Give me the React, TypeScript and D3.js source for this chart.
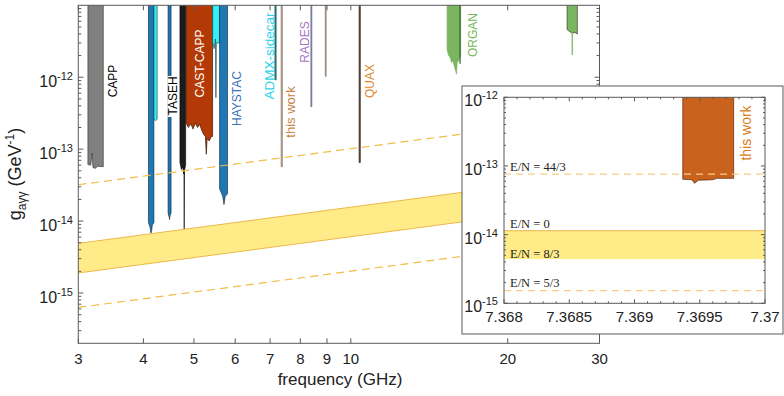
import React from "react";
import * as d3 from "d3";

// ---- tick values ----
const freqTicks = [3, 4, 5, 6, 7, 8, 9, 10, 20, 30];
const gDecades = [-15, -14, -13, -12];
const insetFreqTicks = [7.368, 7.3685, 7.369, 7.3695, 7.37];
const insetFreqTickLabels = ["7.368", "7.3685", "7.369", "7.3695", "7.37"];
const insetDecades = [-15, -14, -13, -12];

// ---- QCD axion lines, [frequency GHz, g (GeV^-1)] ----
const lineEN0 = [[3, 4.9e-15], [30, 4.5e-14]];
const lineEN83 = [[3, 1.9e-15], [30, 1.75e-14]];
const lineEN443 = [[3, 3.2e-14], [30, 2.9e-13]];
const lineEN53 = [[3, 6.3e-16], [30, 5.8e-15]];

// ---- exclusion limits: lower edge of each excluded region ----
const cappLimit = [[3.13, 6.1e-14], [3.17, 6.0e-14], [3.19, 8.8e-14], [3.2, 5.6e-14], [3.23, 5.4e-14], [3.27, 5.8e-14], [3.35, 5.7e-14]];
const haystacA = [[4.09, 9.5e-15], [4.12, 8.2e-15], [4.135, 6.8e-15], [4.15, 7.5e-15], [4.16, 8.8e-15], [4.19, 9.5e-15]];
const sidecarA = [[4.19, 2.6e-13], [4.22, 2.5e-13], [4.25, 2.6e-13]];
const haystacB = [[4.46, 1.3e-14], [4.48, 1.15e-14], [4.49, 1.05e-14], [4.5, 1.2e-14], [4.52, 1.3e-14]];
const tasehLimit = [[4.7, 6.5e-14], [4.73, 5.2e-14], [4.76, 5.6e-14], [4.78, 4.5e-14], [4.785, 4.8e-14], [4.79, 7.5e-15], [4.795, 5e-14], [4.82, 6e-14]];
const castCappLimit = [[4.83, 2.3e-13], [4.88, 2.0e-13], [4.93, 2.25e-13], [4.98, 1.9e-13], [5.03, 2.3e-13], [5.08, 2.0e-13], [5.13, 2.2e-13], [5.18, 1.8e-13], [5.22, 1.6e-13], [5.26, 1.5e-13], [5.28, 8.5e-14], [5.3, 1.4e-13], [5.35, 1.3e-13], [5.4, 1.5e-13], [5.43, 1.5e-13]];
const sidecarB = [[5.43, 3e-12], [5.47, 2.5e-12], [5.5, 3.4e-12], [5.51, 5.2e-13], [5.52, 3e-12], [5.6, 3e-12]];
const haystacC = [[5.6, 2.8e-14], [5.64, 2.5e-14], [5.68, 2.2e-14], [5.71, 1.7e-14], [5.74, 2.2e-14], [5.8, 2.4e-14]];
const sidecarC = [[7.15, 9.2e-13], [7.19, 9.2e-13]];
const thisWorkMain = [[7.35, 5.7e-14], [7.39, 5.7e-14]];
const radesLimit = [[8.38, 3.9e-13], [8.42, 3.9e-13]];
const line9GHz = [[8.93, 1.03e-12], [8.97, 1.03e-12]];
const quaxLimit = [[10.37, 6.5e-14], [10.43, 6.5e-14]];
const organA = [[15.3, 2.4e-12], [15.4, 2.0e-12], [15.5, 1.9e-12], [15.6, 1.6e-12], [15.7, 1.7e-12], [15.8, 1.4e-12], [15.9, 1.2e-12], [15.95, 1.1e-12], [16.0, 1.6e-12], [16.1, 1.7e-12], [16.25, 2.0e-12]];
const organAline = [[16.18, 1.55e-12], [16.22, 1.55e-12]];
const organB = [[26.0, 4.6e-12], [26.3, 4.3e-12], [26.6, 4.1e-12], [26.9, 4.2e-12], [27.2, 4.0e-12]];
const organBline = [[26.56, 2.06e-12], [26.64, 2.06e-12]];

// ---- inset values ----
const insetThisWork = [[7.36937, 6.4e-14], [7.36944, 6.3e-14], [7.36946, 5.6e-14], [7.36949, 6.2e-14], [7.3696, 6.3e-14], [7.36963, 6.6e-14], [7.36976, 6.6e-14]];
const insetEN443 = 7.6e-14;
const insetEN0 = 1.14e-14;
const insetEN83 = 4.4e-15;
const insetEN53 = 1.53e-15;

const regions = [
  { data: cappLimit, fill: "#808080", stroke: "#2a2a2a" },
  { data: haystacA, fill: "#1E78B4", stroke: "#0c2233" },
  { data: sidecarA, fill: "#33EEF5", stroke: "#0c3a40" },
  { data: haystacB, fill: "#1E78B4", stroke: "#0c2233" },
  { data: tasehLimit, fill: "#1c1c1c", stroke: "#000" },
  { data: castCappLimit, fill: "#B33A06", stroke: "#1a0800" },
  { data: sidecarB, fill: "#33EEF5", stroke: "#0c3a40" },
  { data: haystacC, fill: "#1E78B4", stroke: "#0c2233" },
  { data: sidecarC, fill: "#1f8f95", stroke: "#0f4a4d" },
  { data: thisWorkMain, fill: "#BFA592", stroke: "#8a6e5c" },
  { data: radesLimit, fill: "#8585A8", stroke: "#6a6a8a" },
  { data: line9GHz, fill: "#A39384", stroke: "#8a7a6c" },
  { data: quaxLimit, fill: "#6b5444", stroke: "#2a1a10" },
  { data: organA, fill: "#7AB560", stroke: "#7AB560" },
  { data: organAline, fill: "#3f6b30", stroke: "#3f6b30" },
  { data: organB, fill: "#7AB560", stroke: "#1a2a10" },
  { data: organBline, fill: "#7AB560", stroke: "#7AB560" },
];

const font = "'Liberation Sans', Arial, Helvetica, sans-serif";
const serif = "'Liberation Serif', 'Times New Roman', serif";
const axisColor = "#595959";

const mainBox = { left: 78.3, right: 599.5, top: 5.3, bottom: 343.3 };
const panel = { left: 462, right: 783, top: 86, bottom: 334 };
const insetBox = { left: 504, right: 765, top: 97.3, bottom: 303.3 };

const Pow = ({ x, y, exp }) => (
  <text x={x} y={y} textAnchor="end" fontSize={16} fontFamily={font} fill="#222">
    10<tspan dy={-7} fontSize={11}>{exp}</tspan>
  </text>
);

const RotLabel = ({ x, y, text, color, size = 12 }) => (
  <text
    transform={`translate(${x},${y}) rotate(-90)`}
    textAnchor="middle"
    dy="0.36em"
    fontSize={size}
    fontFamily={font}
    fill={color}
  >
    {text}
  </text>
);

const App = () => {
  const x = d3.scaleLog().domain([3, 30]).range([mainBox.left, mainBox.right]);
  const y = d3.scaleLog().domain([2e-16, 1e-11]).range([mainBox.bottom, mainBox.top]);
  const xi = d3.scaleLinear().domain([7.368, 7.37]).range([insetBox.left, insetBox.right]);
  const yi = d3.scaleLog().domain([1e-15, 1e-12]).range([insetBox.bottom, insetBox.top]);

  const path = (pts, sx, sy) =>
    d3.line().x((d) => sx(d[0])).y((d) => sy(d[1]))(pts);

  const regionPath = (pts, sx, sy, top) => {
    const all = [[pts[0][0], top], ...pts, [pts[pts.length - 1][0], top]];
    return path(all, sx, sy) + "Z";
  };

  const band = d3
    .area()
    .x((d, i) => x(lineEN0[i][0]))
    .y0((d, i) => y(lineEN83[i][1]))
    .y1((d, i) => y(lineEN0[i][1]))(lineEN0);

  // minor tick values for log axes
  const minorTicks = (lo, hi, dmin, dmax) => {
    const out = [];
    for (let d = dmin; d <= dmax; d++) {
      for (let k = 2; k <= 9; k++) {
        const v = k * Math.pow(10, d);
        if (v > lo && v < hi) out.push(v);
      }
    }
    return out;
  };
  const mainMinor = minorTicks(2e-16, 1e-11, -16, -12);
  const insetMinor = minorTicks(1e-15, 1e-12, -15, -13);
  const insetXMinor = d3.range(0, 21).map((i) => 7.368 + i * 0.0001);

  const insetBand = [
    [7.368, insetEN0],
    [7.37, insetEN0],
  ];

  return (
    <div style={{ position: "absolute", left: 0, top: 0 }}>
      <svg width={784} height={396} style={{ display: "block", background: "#fff" }}>
        <defs>
          <clipPath id="mainClip">
            <rect x={mainBox.left} y={mainBox.top} width={mainBox.right - mainBox.left} height={mainBox.bottom - mainBox.top} />
          </clipPath>
          <clipPath id="insetClip">
            <rect x={insetBox.left} y={insetBox.top} width={insetBox.right - insetBox.left} height={insetBox.bottom - insetBox.top} />
          </clipPath>
        </defs>

        {/* main plot contents */}
        <g clipPath="url(#mainClip)">
          {regions.map((r, i) => (
            <path key={i} d={regionPath(r.data, x, y, 2e-11)} fill={r.fill} stroke={r.stroke} strokeWidth={0.6} />
          ))}
          <path d={band} fill="#FFEC88" />
          <path d={path(lineEN0, x, y)} stroke="#EDB84A" strokeWidth={1} fill="none" />
          <path d={path(lineEN83, x, y)} stroke="#EDB84A" strokeWidth={1} fill="none" />
          <path d={path(lineEN443, x, y)} stroke="#F2BC45" strokeWidth={1.2} strokeDasharray="8,5" fill="none" />
          <path d={path(lineEN53, x, y)} stroke="#F2BC45" strokeWidth={1.2} strokeDasharray="8,5" fill="none" />

          {/* TASEH label sits on a white patch */}
          <rect x={167.5} y={76} width={10.5} height={41} fill="#fff" />
          <RotLabel x={173} y={96} text="TASEH" color="#000" />
          <RotLabel x={113} y={81} text="CAPP" color="#000" />
          <RotLabel x={199.5} y={63.5} text="CAST-CAPP" color="#fff" />
          <RotLabel x={236.7} y={98.5} text="HAYSTAC" color="#3A72B8" />
          <RotLabel x={269.5} y={56} text="ADMX-sidecar" color="#2ED3EA" size={13.5} />
          <RotLabel x={290} y={112} text="this work" color="#C58545" size={13} />
          <RotLabel x={305} y={42} text="RADES" color="#A673C5" />
          <RotLabel x={369.7} y={81} text="QUAX" color="#E0882C" />
          <RotLabel x={472.5} y={35} text="ORGAN" color="#76B85A" />
        </g>

        {/* main axes */}
        <g stroke={axisColor} strokeWidth={1} fill="none">
          <rect x={mainBox.left} y={mainBox.top} width={mainBox.right - mainBox.left} height={mainBox.bottom - mainBox.top} />
          {freqTicks.map((f) => (
            <g key={f}>
              <line x1={x(f)} x2={x(f)} y1={mainBox.bottom} y2={mainBox.bottom - 5} />
              <line x1={x(f)} x2={x(f)} y1={mainBox.top} y2={mainBox.top + 5} />
            </g>
          ))}
          {gDecades.map((d) => (
            <g key={d}>
              <line x1={mainBox.left} x2={mainBox.left + 5} y1={y(Math.pow(10, d))} y2={y(Math.pow(10, d))} />
              <line x1={mainBox.right} x2={mainBox.right - 5} y1={y(Math.pow(10, d))} y2={y(Math.pow(10, d))} />
            </g>
          ))}
          {mainMinor.map((v, i) => (
            <g key={i}>
              <line x1={mainBox.left} x2={mainBox.left + 3} y1={y(v)} y2={y(v)} />
              <line x1={mainBox.right} x2={mainBox.right - 3} y1={y(v)} y2={y(v)} />
            </g>
          ))}
        </g>
        {freqTicks.map((f) => (
          <text key={f} x={x(f)} y={364} textAnchor="middle" fontSize={15} fontFamily={font} fill="#222">
            {f}
          </text>
        ))}
        {gDecades.map((d) => (
          <Pow key={d} x={73} y={y(Math.pow(10, d)) + 10} exp={`-${-d}`} />
        ))}
        <text x={340} y={385} textAnchor="middle" fontSize={17} fontFamily={font} fill="#222">
          frequency (GHz)
        </text>
        <text transform="translate(21,174) rotate(-90)" textAnchor="middle" fontSize={18} fontFamily={font} fill="#222">
          g<tspan dy={5} fontSize={12}>aγγ</tspan>
          <tspan dy={-5}> (GeV</tspan>
          <tspan dy={-7} fontSize={12}>-1</tspan>
          <tspan dy={7}>)</tspan>
        </text>

        {/* inset panel */}
        <rect x={panel.left} y={panel.top} width={panel.right - panel.left} height={panel.bottom - panel.top} fill="#fff" stroke={axisColor} strokeWidth={1} />
        <g clipPath="url(#insetClip)">
          <rect
            x={insetBox.left}
            y={yi(insetEN0)}
            width={insetBox.right - insetBox.left}
            height={yi(insetEN83) - yi(insetEN0)}
            fill="#FFEC88"
          />
          <path d={path(insetBand, xi, yi)} stroke="#EDB84A" strokeWidth={1} fill="none" />
          <path d={regionPath(insetThisWork, xi, yi, 2e-12)} fill="#C9621C" stroke="#5a2504" strokeWidth={0.7} />
          {[insetEN443, insetEN53].map((g) => (
            <line key={g} x1={insetBox.left} x2={insetBox.right} y1={yi(g)} y2={yi(g)} stroke="#F6CD85" strokeWidth={1.3} strokeDasharray="7,5" />
          ))}
        </g>
        <g stroke={axisColor} strokeWidth={1} fill="none">
          <rect x={insetBox.left} y={insetBox.top} width={insetBox.right - insetBox.left} height={insetBox.bottom - insetBox.top} />
          {insetXMinor.map((v, i) => (
            <g key={i}>
              <line x1={xi(v)} x2={xi(v)} y1={insetBox.bottom} y2={insetBox.bottom - (i % 5 === 0 ? 4 : 2)} />
              <line x1={xi(v)} x2={xi(v)} y1={insetBox.top} y2={insetBox.top + (i % 5 === 0 ? 4 : 2)} />
            </g>
          ))}
          {insetDecades.map((d) => (
            <g key={d}>
              <line x1={insetBox.left} x2={insetBox.left + 4} y1={yi(Math.pow(10, d))} y2={yi(Math.pow(10, d))} />
              <line x1={insetBox.right} x2={insetBox.right - 4} y1={yi(Math.pow(10, d))} y2={yi(Math.pow(10, d))} />
            </g>
          ))}
          {insetMinor.map((v, i) => (
            <g key={i}>
              <line x1={insetBox.left} x2={insetBox.left + 2} y1={yi(v)} y2={yi(v)} />
              <line x1={insetBox.right} x2={insetBox.right - 2} y1={yi(v)} y2={yi(v)} />
            </g>
          ))}
        </g>
        {insetFreqTicks.map((f, i) => (
          <text key={f} x={xi(f)} y={322} textAnchor="middle" fontSize={15} fontFamily={font} fill="#222">
            {insetFreqTickLabels[i]}
          </text>
        ))}
        {insetDecades.map((d) => (
          <Pow key={d} x={498} y={yi(Math.pow(10, d)) + 9} exp={`-${-d}`} />
        ))}
        <g fontFamily={serif} fontSize={12.5} fill="#222">
          <text x={510} y={170.5}>E/N = 44/3</text>
          <text x={510} y={228}>E/N = 0</text>
          <text x={510} y={257.5}>E/N = 8/3</text>
          <text x={510} y={287}>E/N = 5/3</text>
        </g>
        <RotLabel x={746} y={133} text="this work" color="#DA7C22" size={14} />
      </svg>
    </div>
  );
};

export default App;
